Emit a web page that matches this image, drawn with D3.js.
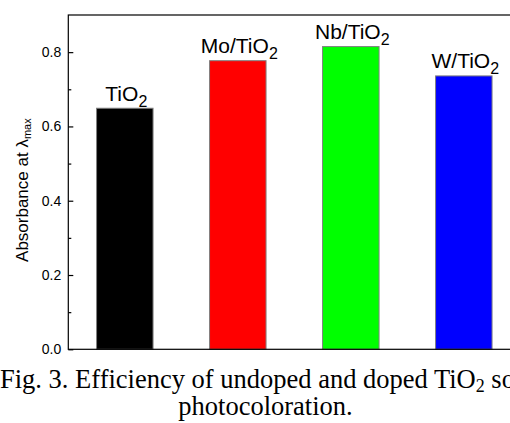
<!DOCTYPE html>
<html>
<head>
<meta charset="utf-8">
<script src="https://cdn.jsdelivr.net/npm/d3@7"></script>
<style>
  body { margin: 0; background: #fff; }
  svg { display: block; }
</style>
</head>
<body>
<div id="container"></div>
<script>
/* DATA */
const samples = ["TiO", "Mo/TiO", "Nb/TiO", "W/TiO"];   // each label ends with subscript 2
const absorbance = [0.649, 0.777, 0.815, 0.736];
const barColors = ["#000000", "#ff0000", "#00ff00", "#0000ff"];
const majorTicks = [0.0, 0.2, 0.4, 0.6, 0.8];
const minorTicks = [0.1, 0.3, 0.5, 0.7];

/* LAYOUT */
const width = 510,
      height = 423,
      margin = {top: 15, left: 68.3};
const plotBottom = 349.3,
      plotRight = 520.3;

const svg = d3.select("#container")
  .append("svg")
  .attr("width", width)
  .attr("height", height);

const xScale = d3.scaleBand()
  .domain(samples)
  .range([margin.left, plotRight])
  .paddingInner(0.5)
  .paddingOuter(0.25);

const yScale = d3.scaleLinear()
  .domain([0, 0.9])
  .range([plotBottom, margin.top]);

// bars
svg.selectAll(".bar")
  .data(samples)
  .join("rect")
  .attr("class", "bar")
  .attr("x", d => xScale(d))
  .attr("width", xScale.bandwidth())
  .attr("y", (d, i) => yScale(absorbance[i]))
  .attr("height", (d, i) => plotBottom - yScale(absorbance[i]))
  .attr("fill", (d, i) => barColors[i])
  .attr("stroke", "#808080")
  .attr("stroke-width", 1);

// labels over bars, with subscript 2
const labels = svg.selectAll(".barLabel")
  .data(samples)
  .join("text")
  .attr("class", "barLabel")
  .attr("x", d => xScale(d) + xScale.bandwidth() / 2 + 1.5)
  .attr("y", (d, i) => yScale(absorbance[i]) - 7.5)
  .attr("text-anchor", "middle")
  .style("font", "21px Arial, 'Liberation Sans', sans-serif")
  .attr("fill", "#000");
labels.append("tspan").text(d => d);
labels.append("tspan")
  .attr("dy", 6)
  .style("font-size", "16px")
  .text("2");

// frame (right side runs off the page)
svg.append("rect")
  .attr("x", margin.left)
  .attr("y", margin.top)
  .attr("width", plotRight - margin.left)
  .attr("height", plotBottom - margin.top)
  .attr("fill", "none")
  .attr("stroke", "#000")
  .attr("stroke-width", 1.2);

// y axis: ticks pointing inward
const yAxisGroup = svg.append("g")
  .attr("transform", `translate(${margin.left}, 0)`)
  .call(d3.axisRight(yScale).tickValues(majorTicks).tickSize(5).tickFormat(""));
yAxisGroup.select(".domain").remove();

svg.append("g")
  .attr("transform", `translate(${margin.left}, 0)`)
  .call(d3.axisRight(yScale).tickValues(minorTicks).tickSize(3).tickFormat(""))
  .select(".domain").remove();

svg.selectAll(".tick line").attr("stroke", "#000").attr("stroke-width", 1.2);

// tick labels
svg.selectAll(".yLabel")
  .data(majorTicks)
  .join("text")
  .attr("class", "yLabel")
  .attr("x", margin.left - 7)
  .attr("y", d => yScale(d) + 5)
  .attr("text-anchor", "end")
  .style("font", "14px Arial, 'Liberation Sans', sans-serif")
  .text(d3.format(".1f"));

// y axis title
const yTitle = svg.append("text")
  .attr("transform", `translate(28, ${(margin.top + plotBottom) / 2 + 8}) rotate(-90)`)
  .attr("text-anchor", "middle")
  .style("font", "17px Arial, 'Liberation Sans', sans-serif");
yTitle.append("tspan").text("Absorbance at \u03bb");
yTitle.append("tspan").attr("dy", 3).style("font-size", "11px").text("max");

// caption
const caption = svg.append("text")
  .attr("x", 0)
  .attr("y", 388)
  .style("font", "26.5px 'Liberation Serif', 'Times New Roman', serif");
caption.append("tspan").text("Fig. 3. Efficiency of undoped and doped TiO");
caption.append("tspan").attr("dy", 4).style("font-size", "18px").text("2");
caption.append("tspan").attr("dy", -4).text(" so");

svg.append("text")
  .attr("x", 265.5)
  .attr("y", 414.5)
  .attr("text-anchor", "middle")
  .style("font", "26.5px 'Liberation Serif', 'Times New Roman', serif")
  .text("photocoloration.");
</script>
</body>
</html>
